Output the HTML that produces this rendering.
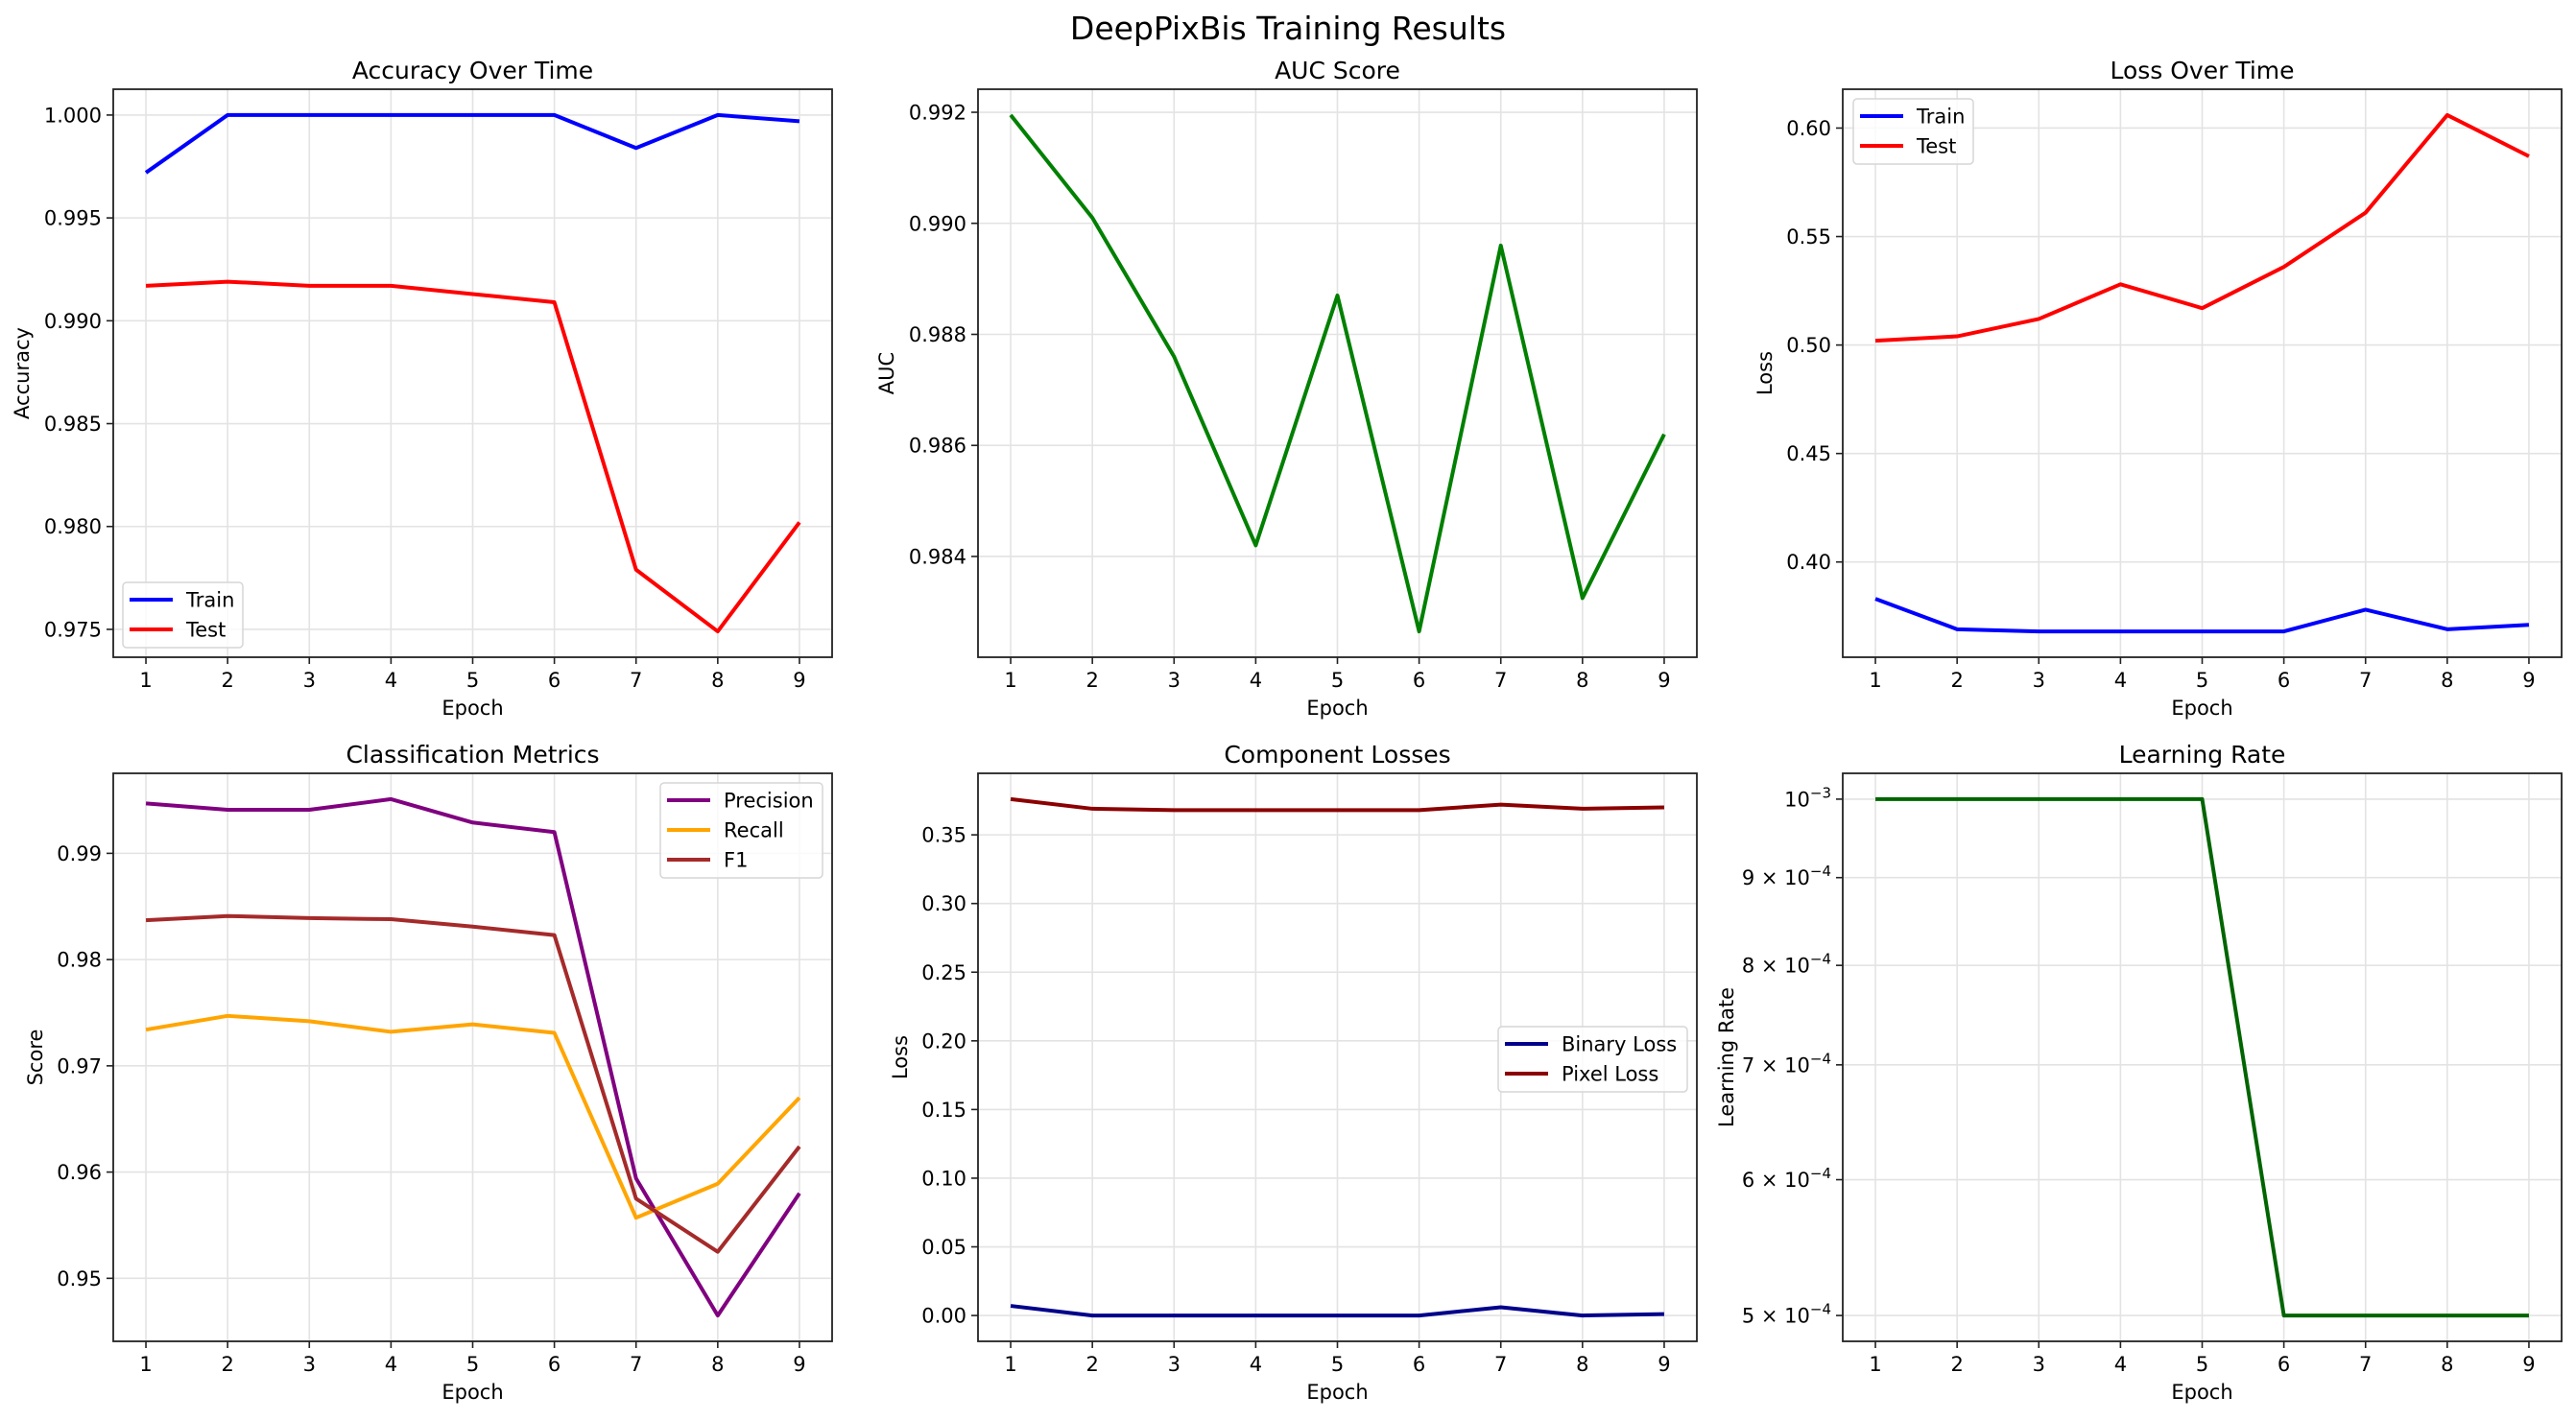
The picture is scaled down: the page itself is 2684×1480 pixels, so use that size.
<!DOCTYPE html>
<html><head><meta charset="utf-8"><style>
html,body{margin:0;padding:0;background:#fff}
svg text{font-family:"DejaVu Sans","Liberation Sans",sans-serif;fill:#000}
</style></head><body>
<svg id="fig" width="2684" height="1475" viewBox="0 0 2684 1475" xmlns="http://www.w3.org/2000/svg">
<rect width="2684" height="1475" fill="#fff"/>
<text x="1342" y="41" font-size="33" text-anchor="middle">DeepPixBis Training Results</text>
</svg>
<script>
const epochs = [1,2,3,4,5,6,7,8,9];
const accTrain = [0.9972,1.0,1.0,1.0,1.0,1.0,0.9984,1.0,0.9997];
const accTest = [0.9917,0.9919,0.9917,0.9917,0.9913,0.9909,0.9779,0.9749,0.9802];
const aucVals = [0.99195,0.9901,0.9876,0.9842,0.9887,0.98265,0.9896,0.98325,0.9862];
const lossTrain = [0.383,0.369,0.368,0.368,0.368,0.368,0.378,0.369,0.371];
const lossTest = [0.502,0.504,0.512,0.528,0.517,0.536,0.561,0.606,0.587];
const precisionVals = [0.9947,0.9941,0.9941,0.9951,0.9929,0.9920,0.9594,0.9465,0.9580];
const recallVals = [0.9734,0.9747,0.9742,0.9732,0.9739,0.9731,0.9557,0.9589,0.9670];
const f1Vals = [0.9837,0.9841,0.9839,0.9838,0.9831,0.9823,0.9575,0.9525,0.9624];
const binaryLoss = [0.007,0.0,0.0,0.0,0.0,0.0,0.006,0.0,0.001];
const pixelLoss = [0.376,0.369,0.368,0.368,0.368,0.368,0.372,0.369,0.370];
const lrVals = [0.001,0.001,0.001,0.001,0.001,0.0005,0.0005,0.0005,0.0005];
const accTicks = [0.975,0.980,0.985,0.990,0.995,1.000];
const aucTicks = [0.984,0.986,0.988,0.990,0.992];
const lossTicks = [0.40,0.45,0.50,0.55,0.60];
const clsTicks = [0.95,0.96,0.97,0.98,0.99];
const compTicks = [0.00,0.05,0.10,0.15,0.20,0.25,0.30,0.35];
const lrTicks = [0.0005,0.0006,0.0007,0.0008,0.0009,0.001];
const lrTickLabels = [["5","−4"],["6","−4"],["7","−4"],["8","−4"],["9","−4"],["","−3"]];

const NS="http://www.w3.org/2000/svg";
const svg=document.getElementById('fig');
function el(tag,attrs,parent){const e=document.createElementNS(NS,tag);for(const k in attrs)e.setAttribute(k,attrs[k]);(parent||svg).appendChild(e);return e;}

const colX=[118,1019,1920], rowY=[93,806], W=749, H=592;

function panel(cfg){
  const L=colX[cfg.col], T=rowY[cfg.row], R=L+W, B=T+H;
  const g=el('g',{});
  
  
  const xs=v=>L+(v-0.6)/8.8*W;
  const tf=cfg.log?Math.log10:(v=>v);
  let mn=Infinity,mx=-Infinity;
  cfg.series.forEach(s=>s.data.forEach(v=>{mn=Math.min(mn,tf(v));mx=Math.max(mx,tf(v));}));
  const m=(mx-mn)*0.05; const y0=mn-m, y1=mx+m;
  const ys=v=>B-(tf(v)-y0)/(y1-y0)*H;
  epochs.forEach(e=>{const x=xs(e);
    const gl=el('line',{x1:x,x2:x,y1:T,y2:B,stroke:'#e3e3e3','stroke-width':1.6},g);
    
    
    el('line',{x1:x,x2:x,y1:B,y2:B+7,stroke:'#222','stroke-width':1.6},g);
    const t=el('text',{x:x,y:B+31,'font-size':21,'text-anchor':'middle'},g);
    t.textContent=e;
    
    
  });
  cfg.ticks.forEach((v,i)=>{const y=ys(v);
    const gl=el('line',{x1:L,x2:R,y1:y,y2:y,stroke:'#e3e3e3','stroke-width':1.6},g);
    
    
    el('line',{x1:L-7,x2:L,y1:y,y2:y,stroke:'#222','stroke-width':1.6},g);
    const t=el('text',{x:L-12,y:y+7.5,'font-size':21,'text-anchor':'end'},g);
    if(cfg.log){
      const lab=lrTickLabels[i];
      const pre=lab[0]?lab[0]+" \u00d7 10":"10";
      t.textContent=pre;
      const sp=el('tspan',{dy:-9,'font-size':15},t);sp.textContent=lab[1];
    } else t.textContent=v.toFixed(cfg.dec);
    
    
  });
  cfg.series.forEach(s=>{
    const p=el('polyline',{points:s.data.map((v,i)=>xs(epochs[i])+','+ys(v)).join(' '),fill:'none',stroke:s.color,'stroke-width':4,'stroke-linejoin':'round'},g);
    
    
  });
  el('rect',{x:L,y:T,width:W,height:H,fill:'none',stroke:'#222','stroke-width':1.8},g);
  const tt=el('text',{x:L+W/2,y:T-11,'font-size':25,'text-anchor':'middle'},g);
  tt.textContent=cfg.title;
  
  
  const xl=el('text',{x:L+W/2,y:B+60,'font-size':21,'text-anchor':'middle'},g);
  xl.textContent='Epoch';
  
  
  const yl=el('text',{x:0,y:0,'font-size':21,'text-anchor':'middle',transform:`translate(${cfg.ylx},${T+H/2}) rotate(-90)`},g);
  yl.textContent=cfg.ylabel;
  
  
  if(cfg.legend){
    const lg=cfg.legend;
    const lgG=el('g',{},g);
    
    
    el('rect',{x:lg.x,y:lg.y,width:lg.w,height:cfg.series.length*31+6,rx:4,fill:'#fff','fill-opacity':0.8,stroke:'#d6d6d6','stroke-width':1.5},lgG);
    cfg.series.forEach((s,i)=>{const cy=lg.y+18+i*31;
      const e=el('g',{},lgG);
      
      
      el('line',{x1:lg.x+7,x2:lg.x+52,y1:cy,y2:cy,stroke:s.color,'stroke-width':4},e);
      const t=el('text',{x:lg.x+66,y:cy+7.5,'font-size':21},e);t.textContent=s.label;
    });
  }
}

panel({name:'accuracy-panel',col:0,row:0,title:'Accuracy Over Time',ylabel:'Accuracy',ylx:30,ticks:accTicks,dec:3,
  series:[{id:'train-accuracy-line',label:'Train',color:'#0000ff',data:accTrain},{id:'test-accuracy-line',label:'Test',color:'#ff0000',data:accTest}],
  legend:{x:128,y:607,w:125}});
panel({name:'auc-panel',col:1,row:0,title:'AUC Score',ylabel:'AUC',ylx:931,ticks:aucTicks,dec:3,
  series:[{id:'auc-line',label:'AUC',color:'#008000',data:aucVals}]});
panel({name:'loss-panel',col:2,row:0,title:'Loss Over Time',ylabel:'Loss',ylx:1846,ticks:lossTicks,dec:2,
  series:[{id:'train-loss-line',label:'Train',color:'#0000ff',data:lossTrain},{id:'test-loss-line',label:'Test',color:'#ff0000',data:lossTest}],
  legend:{x:1931,y:103,w:125}});
panel({name:'classification-panel',col:0,row:1,title:'Classification Metrics',ylabel:'Score',ylx:44,ticks:clsTicks,dec:2,
  series:[{id:'precision-line',label:'Precision',color:'#800080',data:precisionVals},{id:'recall-line',label:'Recall',color:'#ffa500',data:recallVals},{id:'f1-line',label:'F1',color:'#a52a2a',data:f1Vals}],
  legend:{x:688,y:816,w:169}});
panel({name:'component-panel',col:1,row:1,title:'Component Losses',ylabel:'Loss',ylx:945,ticks:compTicks,dec:2,
  series:[{id:'binary-loss-line',label:'Binary Loss',color:'#00008b',data:binaryLoss},{id:'pixel-loss-line',label:'Pixel Loss',color:'#8b0000',data:pixelLoss}],
  legend:{x:1561,y:1070,w:197}});
panel({name:'learning-rate-panel',col:2,row:1,title:'Learning Rate',ylabel:'Learning Rate',ylx:1806,ticks:lrTicks,log:true,
  series:[{id:'learning-rate-line',label:'LR',color:'#006400',data:lrVals}]});
</script>
</body></html>
